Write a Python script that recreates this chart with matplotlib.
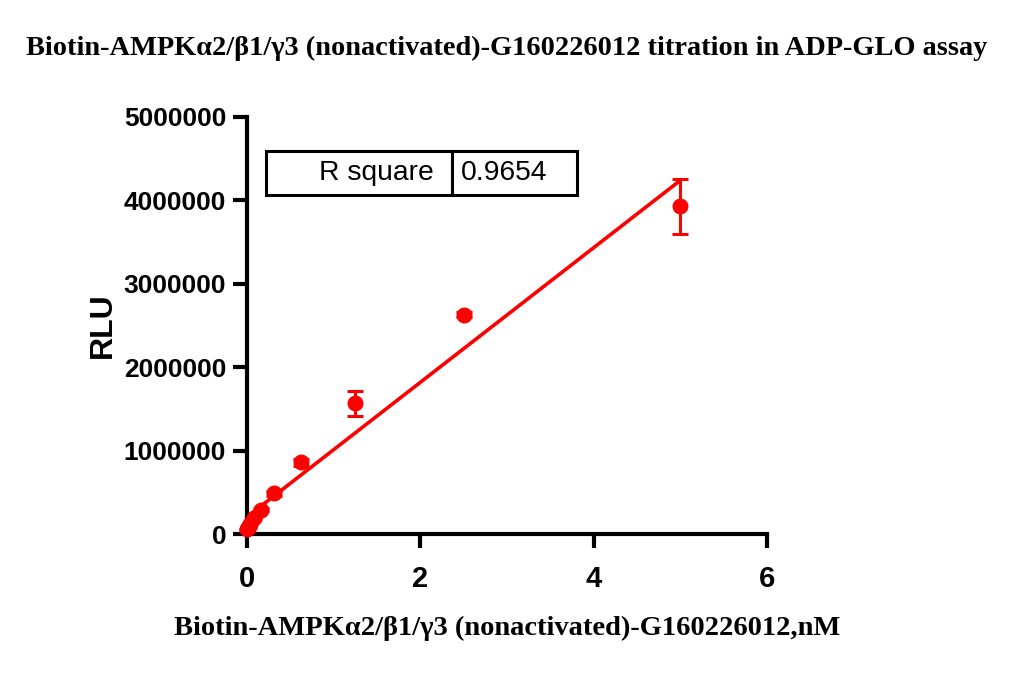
import numpy as np
import matplotlib as mpl
mpl.use("Agg")
import matplotlib.pyplot as plt
import matplotlib.ticker as ticker

# data
conc_nM = [5.0, 2.5, 1.25, 0.625, 0.3125, 0.15625, 0.078125, 0.0390625, 0.01953125, 0.009765625, 0.0]
rlu_mean = [3930000, 2630000, 1570000, 860000, 490000, 290000, 190000, 125000, 95000, 75000, 55000]
rlu_sd = [330000, 30000, 150000, 40000, 30000, 20000, 15000, 10000, 10000, 10000, 10000]
r_square = "0.9654"

title = "Biotin-AMPK\u03b12/\u03b21/\u03b33 (nonactivated)-G160226012 titration in ADP-GLO assay"
xlabel = "Biotin-AMPK\u03b12/\u03b21/\u03b33 (nonactivated)-G160226012,nM"

RED = "#ff0000"
SANS = ["Liberation Sans", "DejaVu Sans"]
SERIF = ["Liberation Serif", "DejaVu Serif"]

fig = plt.figure(figsize=(10.14, 6.77), dpi=100)
ax = fig.add_axes([0.2436, 0.2112, 0.5128, 0.616])

x = np.array(conc_nM)
y = np.array(rlu_mean)

# linear fit through the means
slope, icpt = np.polyfit(x, y, 1)
xf = np.array([0.0, 5.0])
ax.plot(xf, slope * xf + icpt, color=RED, lw=2.6, zorder=2, clip_on=False)

ax.errorbar(x, y, yerr=rlu_sd, fmt="o", color=RED, ms=10.5, mec=RED,
            elinewidth=2.2, capsize=6, capthick=2.2, zorder=3, clip_on=False)

ax.set_xlim(0, 6)
ax.set_ylim(0, 5000000)
ax.xaxis.set_major_locator(ticker.MultipleLocator(2))
ax.yaxis.set_major_locator(ticker.MultipleLocator(1000000))
ax.yaxis.set_major_formatter(ticker.FuncFormatter(lambda v, p: f"{int(v)}"))

for s in ["top", "right"]:
    ax.spines[s].set_visible(False)
for s in ["left", "bottom"]:
    ax.spines[s].set_linewidth(3)
ax.tick_params(axis="both", width=3, length=10, direction="out")
ax.tick_params(axis="x", pad=12)
ax.tick_params(axis="y", pad=5)

for lab in ax.get_xticklabels():
    lab.set_family(SANS)
    lab.set_fontweight("bold")
    lab.set_fontsize(21)
for lab in ax.get_yticklabels():
    lab.set_family(SANS)
    lab.set_fontweight("bold")
    lab.set_fontsize(19)

ax.set_ylabel("RLU", family=SANS, fontweight="bold", fontsize=23, labelpad=4)
fig.text(0.5, 0.072, xlabel, ha="center", va="center", family=SERIF,
         fontweight="bold", fontsize=20.5)
fig.text(0.5, 0.929, title, ha="center", va="center", family=SERIF,
         fontweight="bold", fontsize=20.4)

# R square table
tbl = ax.table(cellText=[["R square", r_square]], colWidths=[0.357, 0.24],
               bbox=[0.0365, 0.814, 0.5985, 0.1055], cellLoc="right")
tbl.auto_set_font_size(False)
for (r, c), cell in tbl.get_celld().items():
    cell.set_linewidth(2.2)
    cell.get_text().set_fontsize(20.3)
    cell.get_text().set_family(SANS)
    if c == 0:
        cell.PAD = 0.1
    else:
        cell.PAD = 0.07
        cell._loc = "left"
        cell.get_text().set_ha("left")

fig.savefig("out.png", dpi=100)
